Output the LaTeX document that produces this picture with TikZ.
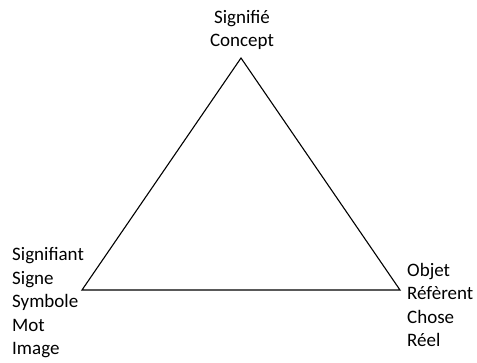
\documentclass[tikz,border=0pt]{standalone}
\usepackage{fontspec}
\setmainfont{Carlito}
\begin{document}
\begin{tikzpicture}[x=1pt,y=-1pt,
  lbl/.style={inner sep=0pt,font=\fontsize{19}{23.5}\selectfont},
  edge/.style={draw=black,line width=1.1pt,line join=miter}]
\useasboundingbox (0,0) rectangle (477,363);
\coordinate (A) at (241,58);
\coordinate (B) at (82,290);
\coordinate (C) at (400,290);
\draw[edge] (A) -- (B) -- (C) -- cycle;
\node[lbl,align=center] (top) at (242,30) {Signifié\\Concept};
\node[lbl,align=left,anchor=west] (left) at (12,303) {Signifiant\\Signe\\Symbole\\Mot\\Image};
\node[lbl,align=left,anchor=west] (right) at (407,305) {Objet\\Réfèrent\\Chose\\Réel};
\end{tikzpicture}
\end{document}
